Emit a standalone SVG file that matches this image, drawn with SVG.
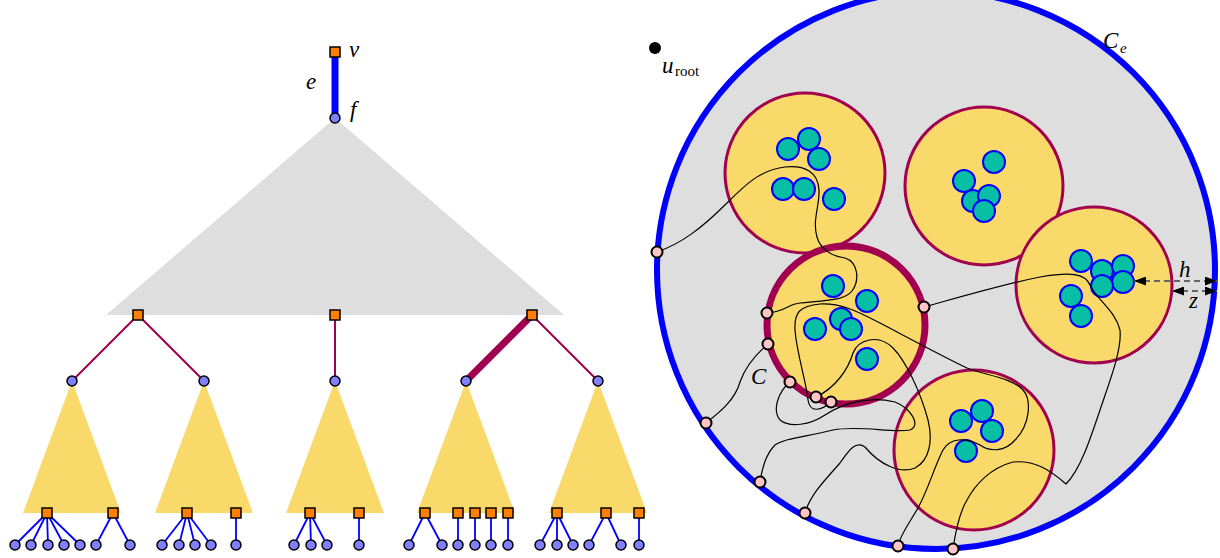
<svg xmlns="http://www.w3.org/2000/svg" xmlns:xlink="http://www.w3.org/1999/xlink" width="1220" height="558" viewBox="0 0 1220 558">
<style>
.sq{fill:#ff8000;stroke:#000;stroke-width:1.5}
.lv{fill:#8080ff;stroke:#000;stroke-width:1.5}
.le{stroke:#0000ff;stroke-width:1.8;fill:none}
.pe{stroke:#a0004f;stroke-width:2;fill:none}
.tri{fill:#f9d96a}
.ball{fill:#08bfa5;stroke:#0000ff;stroke-width:2}
.yc{fill:#f9d96a;stroke:#a0004f;stroke-width:3}
.cv{fill:none;stroke:#000;stroke-width:1.2}
.pk{fill:#ffc4c4;stroke:#000;stroke-width:2}
.lbl{font-family:"Liberation Serif",serif;font-style:italic;font-size:23px;fill:#000}
.sub{font-family:"Liberation Serif",serif;font-size:15px;fill:#000}
.dash{stroke:#666;stroke-width:1.8;stroke-dasharray:6 4;fill:none}
</style>
<defs>
<rect id="s" x="-5" y="-5" width="10" height="10" class="sq"/>
<circle id="l" r="5" class="lv"/>
<circle id="p" r="5.5" class="pk"/>
<circle id="b" r="11" class="ball"/>
<marker id="ah" viewBox="0 0 12 9" refX="12" refY="4.5" markerWidth="12" markerHeight="9" markerUnits="userSpaceOnUse" orient="auto-start-reverse"><path d="M0,0 L12,4.5 L0,9 z" fill="#000"/></marker>
</defs>

<!-- LEFT TREE -->
<g id="shapes-left">
<polygon points="335,118 106,315 564,315" fill="#dedede"/>
<polygon class="tri" points="72,381 23,513 121,513"/>
<polygon class="tri" points="204,381 155,513 253,513"/>
<polygon class="tri" points="335,381 286,513 384,513"/>
<polygon class="tri" points="466,381 417,513 515,513"/>
<polygon class="tri" points="598,381 549,513 647,513"/>
</g>

<g id="connectors-left">
<line x1="335" y1="52" x2="335" y2="118" stroke="#0000ff" stroke-width="7"/>
<path class="pe" d="M138,315 L72,381 M138,315 L204,381 M335,315 L335,381 M532,315 L598,381"/>
<line x1="532" y1="315" x2="466" y2="381" stroke="#a0004f" stroke-width="7"/>
<path class="le" d="M47,513 L15,545 M47,513 L31,545 M47,513 L48,545 M47,513 L64,545 M47,513 L80,545 M113,513 L96,545 M113,513 L130,545
M187,513 L162,545 M187,513 L179,545 M187,513 L195,545 M187,513 L211,545 M236,513 L236,545
M310,513 L294,545 M310,513 L311,545 M310,513 L327,545 M359,513 L359,545
M425,513 L409,545 M425,513 L442,545 M458,513 L458,545 M475,513 L475,545 M491,513 L491,545 M508,513 L508,545
M557,513 L540,545 M557,513 L557,545 M557,513 L573,545 M606,513 L589,545 M606,513 L621,545 M639,513 L639,545"/>
</g>

<g id="node-v"><use xlink:href="#s" x="335" y="52"/><text class="lbl" x="349" y="57">v</text></g>
<text class="lbl" x="306" y="89">e</text>
<g id="node-f"><use xlink:href="#l" x="335" y="118"/><text class="lbl" x="350" y="117">f</text></g>
<g id="level1">
<g id="n1a"><use xlink:href="#s" x="138" y="315"/></g>
<g id="n1b"><use xlink:href="#s" x="335" y="315"/></g>
<g id="n1c"><use xlink:href="#s" x="532" y="315"/></g>
</g>
<g id="level2">
<g id="n2a"><use xlink:href="#l" x="72" y="381"/></g>
<g id="n2b"><use xlink:href="#l" x="204" y="381"/></g>
<g id="n2c"><use xlink:href="#l" x="335" y="381"/></g>
<g id="n2d"><use xlink:href="#l" x="466" y="381"/></g>
<g id="n2e"><use xlink:href="#l" x="598" y="381"/></g>
</g>
<g id="bottom-squares">
<use xlink:href="#s" x="47" y="513"/><use xlink:href="#s" x="113" y="513"/>
<use xlink:href="#s" x="187" y="513"/><use xlink:href="#s" x="236" y="513"/>
<use xlink:href="#s" x="310" y="513"/><use xlink:href="#s" x="359" y="513"/>
<use xlink:href="#s" x="425" y="513"/><use xlink:href="#s" x="458" y="513"/><use xlink:href="#s" x="475" y="513"/><use xlink:href="#s" x="491" y="513"/><use xlink:href="#s" x="508" y="513"/>
<use xlink:href="#s" x="557" y="513"/><use xlink:href="#s" x="606" y="513"/><use xlink:href="#s" x="639" y="513"/>
</g>
<g id="leaves">
<use xlink:href="#l" x="15" y="545"/><use xlink:href="#l" x="31" y="545"/><use xlink:href="#l" x="48" y="545"/><use xlink:href="#l" x="64" y="545"/><use xlink:href="#l" x="80" y="545"/><use xlink:href="#l" x="96" y="545"/><use xlink:href="#l" x="130" y="545"/>
<use xlink:href="#l" x="162" y="545"/><use xlink:href="#l" x="179" y="545"/><use xlink:href="#l" x="195" y="545"/><use xlink:href="#l" x="211" y="545"/><use xlink:href="#l" x="236" y="545"/>
<use xlink:href="#l" x="294" y="545"/><use xlink:href="#l" x="311" y="545"/><use xlink:href="#l" x="327" y="545"/><use xlink:href="#l" x="359" y="545"/>
<use xlink:href="#l" x="409" y="545"/><use xlink:href="#l" x="442" y="545"/><use xlink:href="#l" x="458" y="545"/><use xlink:href="#l" x="475" y="545"/><use xlink:href="#l" x="491" y="545"/><use xlink:href="#l" x="508" y="545"/>
<use xlink:href="#l" x="540" y="545"/><use xlink:href="#l" x="557" y="545"/><use xlink:href="#l" x="573" y="545"/><use xlink:href="#l" x="589" y="545"/><use xlink:href="#l" x="621" y="545"/><use xlink:href="#l" x="639" y="545"/>
</g>

<!-- RIGHT PICTURE -->
<g id="outer-Ce">
<circle cx="936" cy="270" r="279" fill="#dedede" stroke="#0000ff" stroke-width="6"/>
<text class="lbl" x="1103" y="48">C</text><text class="sub" style="font-style:italic" x="1120" y="53">e</text>
</g>
<g id="u-root"><circle cx="655" cy="48" r="6" fill="#000"/><text class="lbl" x="662" y="73">u</text><text class="sub" x="675" y="76">root</text></g>

<g id="cluster1"><circle class="yc" cx="805" cy="173" r="80"/>
<use xlink:href="#b" x="788" y="149"/><use xlink:href="#b" x="809" y="139"/><use xlink:href="#b" x="819" y="159"/><use xlink:href="#b" x="783" y="189"/><use xlink:href="#b" x="804" y="189"/><use xlink:href="#b" x="834" y="199"/></g>
<g id="cluster2"><circle class="yc" cx="984" cy="186" r="79"/>
<use xlink:href="#b" x="994" y="162"/><use xlink:href="#b" x="964" y="181"/><use xlink:href="#b" x="973" y="201"/><use xlink:href="#b" x="989" y="196"/><use xlink:href="#b" x="984" y="211"/></g>
<g id="cluster3"><circle class="yc" cx="1094" cy="285" r="78"/>
<use xlink:href="#b" x="1081" y="261"/><use xlink:href="#b" x="1102" y="271"/><use xlink:href="#b" x="1123" y="266"/><use xlink:href="#b" x="1123" y="282"/><use xlink:href="#b" x="1102" y="286"/><use xlink:href="#b" x="1071" y="296"/><use xlink:href="#b" x="1081" y="316"/></g>
<g id="cluster-C"><circle cx="846" cy="325" r="79" fill="#f9d96a" stroke="#a0004f" stroke-width="7"/>
<use xlink:href="#b" x="833" y="286"/><use xlink:href="#b" x="867" y="301"/><use xlink:href="#b" x="815" y="329"/><use xlink:href="#b" x="841" y="319"/><use xlink:href="#b" x="851" y="329"/><use xlink:href="#b" x="867" y="359"/>
<text class="lbl" x="751" y="384">C</text></g>
<g id="cluster5"><circle class="yc" cx="974" cy="450" r="80"/>
<use xlink:href="#b" x="961" y="421"/><use xlink:href="#b" x="982" y="411"/><use xlink:href="#b" x="992" y="431"/><use xlink:href="#b" x="966" y="451"/></g>

<g id="connectors-right">
<path class="cv" d="M657,252 C680,244 700,230 727,203 C745,185 760,170 785,167 C805,165 818,172 819,190 C820,205 812,220 817,237 C820,248 830,256 845,258 C858,262 860,280 852,291 C845,300 830,300 800,303 C788,304 785,312 767,313"/>
<path class="cv" d="M768,344 C755,355 745,368 740,382 C735,400 720,412 706,423"/>
<path class="cv" d="M924,307 C960,297 1000,285 1040,277 C1070,272 1085,273 1090,285 C1097,300 1115,310 1120,330 C1122,350 1110,380 1100,410 C1090,440 1080,470 1066,484 C1050,470 1035,460 1013,462 C990,468 975,485 967,500 C958,515 955,535 953,549"/>
<path class="cv" d="M831,402 C822,410 810,414 808,400 C806,380 797,355 795,330 C794,312 800,306 820,304 C840,303 855,310 880,323 C905,336 940,355 967,368 C985,375 1012,378 1023,390 C1032,400 1030,425 1015,440 C1005,452 990,452 980,445 C965,437 950,438 943,450 C935,465 928,490 918,508 C910,522 900,535 898,546"/>
<path class="cv" d="M816,397 C835,388 848,370 853,353 C858,340 878,333 893,348 C905,360 920,390 928,420 C933,440 930,460 915,468 C900,474 880,465 865,447 C855,440 848,452 840,463 C825,480 810,495 805,513"/>
<path class="cv" d="M790,382 C778,392 772,410 780,420 C790,428 810,425 825,415 C845,402 870,396 895,402 C910,408 922,425 910,430 C890,433 860,425 833,430 C805,437 785,438 775,445 C765,455 762,470 760,482"/>
<path class="dash" d="M1134,281 H1217" marker-start="url(#ah)" marker-end="url(#ah)"/>
<path class="dash" d="M1172,291 H1217" marker-start="url(#ah)" marker-end="url(#ah)"/>
</g>
<text class="lbl" x="1179" y="277">h</text>
<text class="lbl" x="1189" y="308">z</text>

<g id="ports">
<use xlink:href="#p" x="657" y="252"/><use xlink:href="#p" x="706" y="423"/><use xlink:href="#p" x="760" y="482"/><use xlink:href="#p" x="805" y="513"/><use xlink:href="#p" x="898" y="546"/><use xlink:href="#p" x="953" y="549"/>
<use xlink:href="#p" x="767" y="313"/><use xlink:href="#p" x="768" y="344"/><use xlink:href="#p" x="790" y="382"/><use xlink:href="#p" x="816" y="397"/><use xlink:href="#p" x="831" y="402"/><use xlink:href="#p" x="924" y="307"/>
</g>
</svg>
